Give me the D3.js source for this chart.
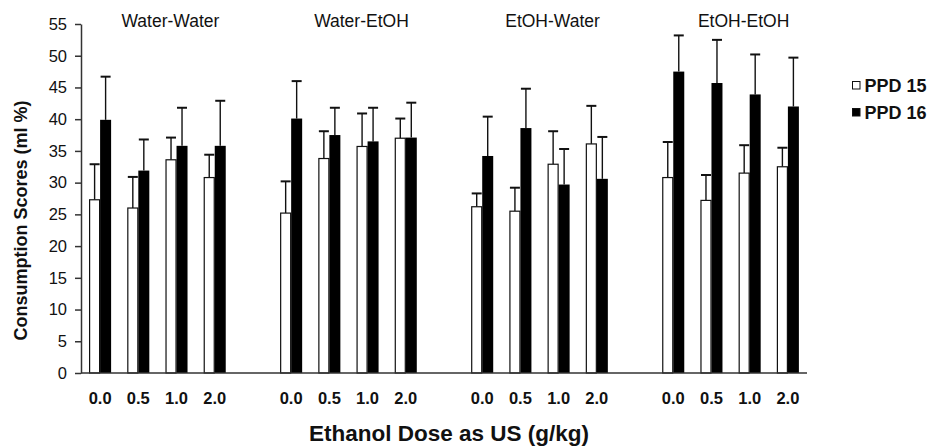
<!DOCTYPE html>
<html>
<head>
<meta charset="utf-8">
<script src="https://cdn.jsdelivr.net/npm/d3@7"></script>
<style>
  html, body { margin: 0; padding: 0; background: #fff; }
  svg { display: block; }
  text { font-family: Arial, "Liberation Sans", Helvetica, sans-serif; fill: #111; }
</style>
</head>
<body>
<svg id="chart" width="934" height="446"></svg>
<script>
// ---- data ----
const groups = ["Water-Water", "Water-EtOH", "EtOH-Water", "EtOH-EtOH"];
const doses = ["0.0", "0.5", "1.0", "2.0"];
const seriesNames = ["PPD 15", "PPD 16"];
const ppd15 = [27.3, 26.0, 33.6, 30.8, 25.2, 33.8, 35.7, 37.0, 26.2, 25.5, 32.9, 36.1, 30.8, 27.2, 31.5, 32.5];
const ppd15Sem = [5.6, 4.9, 3.5, 3.6, 5.0, 4.3, 5.2, 3.1, 2.1, 3.7, 5.2, 6.0, 5.6, 4.0, 4.4, 3.0];
const ppd16 = [39.9, 31.9, 35.8, 35.8, 40.1, 37.5, 36.5, 37.1, 34.2, 38.6, 29.7, 30.6, 47.5, 45.7, 43.9, 42.0];
const ppd16Sem = [6.8, 4.9, 6.0, 7.1, 5.9, 4.3, 5.3, 5.5, 6.2, 6.2, 5.6, 6.6, 5.7, 6.8, 6.3, 7.7];
const yTicks = [0, 5, 10, 15, 20, 25, 30, 35, 40, 45, 50, 55];
const yTitle = "Consumption Scores (ml %)";
const xTitle = "Ethanol Dose as US (g/kg)";

// ---- build ----
const svg = d3.select("#chart");
const mLeft = 81, mRight = 807, mTop = 24, mBottom = 373;

// slots: 4 doses per group with one empty slot between groups
const slotKeys = [];
groups.forEach((g, gi) => {
  doses.forEach(d => slotKeys.push(g + "|" + d));
  if (gi < groups.length - 1) slotKeys.push("gap" + gi);
});

const x = d3.scaleBand().domain(slotKeys).range([mLeft, mRight]).padding(0);
const barW = 11;
const inner = d3.scaleBand().domain(seriesNames)
  .range([0, x.bandwidth()])
  .paddingInner(0)
  .paddingOuter((x.bandwidth() / barW - 2) / 2);
const y = d3.scaleLinear().domain([0, 55]).range([mBottom, mTop]);

const rows = [];
groups.forEach((g, gi) => {
  doses.forEach((d, di) => {
    const i = gi * doses.length + di;
    rows.push({ key: g + "|" + d, dose: d, s: "PPD 15", v: ppd15[i], e: ppd15Sem[i] });
    rows.push({ key: g + "|" + d, dose: d, s: "PPD 16", v: ppd16[i], e: ppd16Sem[i] });
  });
});

// error bars (upward only), drawn first
const capW = 10;
const eb = svg.append("g").attr("stroke", "#111").attr("stroke-width", 1.4);
rows.forEach(r => {
  const cx = x(r.key) + inner(r.s) + inner.bandwidth() / 2;
  eb.append("line").attr("x1", cx).attr("x2", cx).attr("y1", y(r.v)).attr("y2", y(r.v + r.e));
  eb.append("line").attr("x1", cx - capW / 2).attr("x2", cx + capW / 2)
    .attr("y1", y(r.v + r.e)).attr("y2", y(r.v + r.e)).attr("stroke-width", 2);
});

// bars
svg.append("g").selectAll("rect").data(rows).join("rect")
  .attr("x", r => x(r.key) + inner(r.s) + (r.s === "PPD 15" ? 0.5 : 0))
  .attr("y", r => y(r.v))
  .attr("width", r => inner.bandwidth() - (r.s === "PPD 15" ? 1 : 0))
  .attr("height", r => y(0) - y(r.v))
  .attr("fill", r => r.s === "PPD 15" ? "#fff" : "#000")
  .attr("stroke", r => r.s === "PPD 15" ? "#111" : "none")
  .attr("stroke-width", 1.2);

// y axis
const yAxis = svg.append("g").attr("transform", `translate(${mLeft},0)`)
  .call(d3.axisLeft(y).tickValues(yTicks).tickFormat(d3.format("d")).tickSize(6).tickSizeOuter(0).tickPadding(8));
yAxis.select(".domain").attr("stroke", "#333").attr("stroke-width", 1.5);
yAxis.selectAll(".tick line").attr("stroke", "#333").attr("stroke-width", 1.5);
yAxis.selectAll(".tick text").attr("font-size", 16.5).attr("font-family", "Arial, 'Liberation Sans', sans-serif").attr("fill", "#111");

// x axis baseline
svg.append("line").attr("x1", mLeft).attr("x2", mRight).attr("y1", y(0)).attr("y2", y(0))
  .attr("stroke", "#333").attr("stroke-width", 1.5);

// dose labels
svg.append("g").selectAll("text").data(slotKeys.filter(k => k.includes("|"))).join("text")
  .attr("x", k => x(k) + x.bandwidth() / 2)
  .attr("y", 404)
  .attr("text-anchor", "middle")
  .attr("font-weight", "bold")
  .attr("font-size", 16.5)
  .text(k => k.split("|")[1]);

// group titles
groups.forEach(g => {
  const x0 = x(g + "|" + doses[0]);
  const x1 = x(g + "|" + doses[doses.length - 1]) + x.bandwidth();
  svg.append("text")
    .attr("x", (x0 + x1) / 2 + 13)
    .attr("y", 27)
    .attr("text-anchor", "middle")
    .attr("font-size", 17.5)
    .text(g);
});

// axis titles
svg.append("text")
  .attr("x", (mLeft + mRight) / 2 + 5)
  .attr("y", 441)
  .attr("text-anchor", "middle")
  .attr("font-weight", "bold")
  .attr("font-size", 22.5)
  .text(xTitle);

svg.append("text")
  .attr("transform", `translate(26.5,${(mTop + mBottom) / 2 + 22}) rotate(-90)`)
  .attr("text-anchor", "middle")
  .attr("font-weight", "bold")
  .attr("font-size", 18)
  .text(yTitle);

// legend
const leg = svg.append("g").attr("transform", "translate(852,0)");
seriesNames.forEach((s, i) => {
  const cy = 86 + i * 27;
  leg.append("rect").attr("x", 0.5).attr("y", cy - 4.5).attr("width", 7.5).attr("height", 7.5)
    .attr("fill", i === 0 ? "#fff" : "#000").attr("stroke", "#111").attr("stroke-width", 1);
  leg.append("text").attr("x", 12.5).attr("y", cy + 5.5)
    .attr("font-weight", "bold").attr("font-size", 18).text(s);
});
</script>
</body>
</html>
